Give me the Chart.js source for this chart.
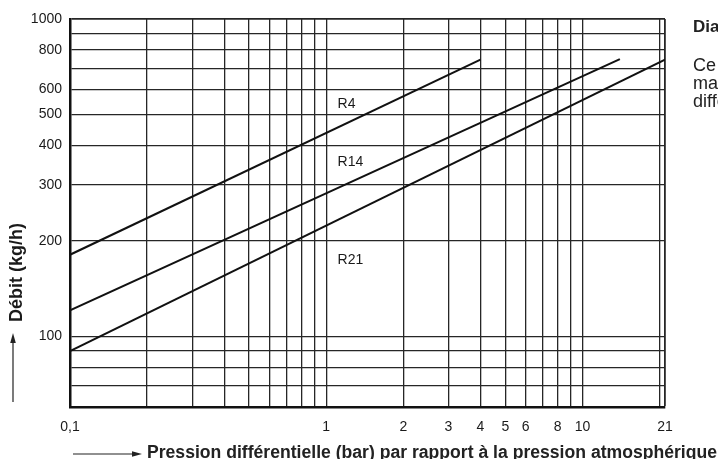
<!DOCTYPE html>
<html>
<head>
<meta charset="utf-8">
<script src="https://cdn.jsdelivr.net/npm/chart.js@4.4.1/dist/chart.umd.min.js"></script>
<style>
  html, body { margin: 0; padding: 0; background: #ffffff; overflow: hidden; }
  canvas { display: block; }
</style>
</head>
<body>
<canvas id="chart" width="718" height="459"></canvas>
<script>
// Differential pressure ticks (bar) and the ones that carry a label
const pressureTicks = [0.1, 0.2, 0.3, 0.4, 0.5, 0.6, 0.7, 0.8, 0.9,
                       1, 2, 3, 4, 5, 6, 7, 8, 9, 10, 20, 21];
const pressureLabels = { '0.1': '0,1', '1': '1', '2': '2', '3': '3', '4': '4',
                         '5': '5', '6': '6', '8': '8', '10': '10', '21': '21' };

// Flow ticks (kg/h) and the ones that carry a label
const flowTicks = [60, 70, 80, 90, 100, 200, 300, 400, 500, 600, 700, 800, 900, 1000];
const flowLabels = [100, 200, 300, 400, 500, 600, 800, 1000];

// Flow curves: pressure (bar) -> flow (kg/h)
const seriesNames = ['R4', 'R14', 'R21'];
const r4Pressure = [0.1, 4];
const r4Flow = [181, 745];
const r14Pressure = [0.1, 14];
const r14Flow = [121, 748];
const r21Pressure = [0.1, 21];
const r21Flow = [90, 745];

const FONT = '"Liberation Sans", Arial, Helvetica, sans-serif';

function toPoints(xs, ys) {
  return xs.map((x, i) => ({ x: x, y: ys[i] }));
}

// Curve names, anchored in data coordinates next to each line
const curveLabels = [
  { text: seriesNames[0], x: 1.107, y: 540 },
  { text: seriesNames[1], x: 1.107, y: 354 },
  { text: seriesNames[2], x: 1.107, y: 174 }
];

function arrow(ctx, x1, y1, x2, y2) {
  const ang = Math.atan2(y2 - y1, x2 - x1);
  const head = 10, half = 2.8;
  const bx = x2 - head * Math.cos(ang), by = y2 - head * Math.sin(ang);
  ctx.beginPath();
  ctx.moveTo(x1, y1);
  ctx.lineTo(bx, by);
  ctx.lineWidth = 1.2;
  ctx.strokeStyle = '#222';
  ctx.stroke();
  ctx.beginPath();
  ctx.moveTo(x2, y2);
  ctx.lineTo(bx + half * Math.sin(ang), by - half * Math.cos(ang));
  ctx.lineTo(bx - half * Math.sin(ang), by + half * Math.cos(ang));
  ctx.closePath();
  ctx.fillStyle = '#222';
  ctx.fill();
}

const decorations = {
  id: 'decorations',
  afterDraw(chart) {
    const ctx = chart.ctx;
    const xs = chart.scales.x, ys = chart.scales.y;
    ctx.save();
    ctx.fillStyle = '#1a1a1a';

    // Curve names
    ctx.font = '14px ' + FONT;
    ctx.textAlign = 'left';
    ctx.textBaseline = 'middle';
    curveLabels.forEach(l => {
      ctx.fillText(l.text, xs.getPixelForValue(l.x), ys.getPixelForValue(l.y));
    });

    // Y axis title with upward arrow
    ctx.save();
    ctx.font = 'bold 18px ' + FONT;
    ctx.translate(22, 322);
    ctx.rotate(-Math.PI / 2);
    ctx.textAlign = 'left';
    ctx.textBaseline = 'alphabetic';
    ctx.fillText('Débit (kg/h)', 0, 0);
    ctx.restore();
    arrow(ctx, 13, 402, 13, 333);

    // X axis title with arrow
    arrow(ctx, 73, 454, 142, 454);
    const xTitle = 'Pression différentielle (bar) par rapport à la pression atmosphérique';
    ctx.save();
    ctx.font = 'bold 18px ' + FONT;
    ctx.textAlign = 'left';
    ctx.textBaseline = 'alphabetic';
    const w = ctx.measureText(xTitle).width;
    const target = 570;
    ctx.translate(147, 458);
    ctx.scale(Math.min(1, target / w), 1);
    ctx.fillText(xTitle, 0, 0);
    ctx.restore();

    // Side description
    ctx.textAlign = 'left';
    ctx.textBaseline = 'alphabetic';
    ctx.font = 'bold 17px ' + FONT;
    ctx.fillText('Diagramme de débit', 693, 32);
    ctx.font = '18px ' + FONT;
    ctx.fillText('Ce diagramme indique le débit', 693, 71);
    ctx.fillText('maximal en fonction de la pression', 693, 89);
    ctx.fillText('différentielle.', 693, 107);

    ctx.restore();
  }
};

const lineStyle = { borderColor: '#111', borderWidth: 2, pointRadius: 0, fill: false, tension: 0 };

new Chart(document.getElementById('chart'), {
  type: 'line',
  data: {
    datasets: [
      Object.assign({ label: seriesNames[0], data: toPoints(r4Pressure, r4Flow) }, lineStyle),
      Object.assign({ label: seriesNames[1], data: toPoints(r14Pressure, r14Flow) }, lineStyle),
      Object.assign({ label: seriesNames[2], data: toPoints(r21Pressure, r21Flow) }, lineStyle)
    ]
  },
  options: {
    responsive: false,
    animation: false,
    devicePixelRatio: 1,
    layout: { padding: { top: 19, right: 53, left: 0, bottom: 0 } },
    plugins: { legend: { display: false }, tooltip: { enabled: false } },
    scales: {
      x: {
        type: 'logarithmic',
        min: 0.1,
        max: 21,
        afterBuildTicks: s => { s.ticks = pressureTicks.map(v => ({ value: v })); },
        afterFit: s => { s.height = 52; },
        grid: {
          color: '#262626',
          lineWidth: c => (c.tick && c.tick.value === 21 ? 1.8 : 1.3),
          drawTicks: false
        },
        border: { display: true, color: '#111', width: 2.5 },
        ticks: {
          autoSkip: false,
          maxRotation: 0,
          padding: 12,
          color: '#1a1a1a',
          font: { family: FONT, size: 14 },
          callback: v => pressureLabels[String(v)] || ''
        }
      },
      y: {
        type: 'logarithmic',
        min: 60,
        max: 1000,
        afterBuildTicks: s => { s.ticks = flowTicks.map(v => ({ value: v })); },
        afterFit: s => { s.width = 70; },
        grid: {
          color: '#262626',
          lineWidth: c => (c.tick && c.tick.value === 1000 ? 1.8 : 1.3),
          drawTicks: false
        },
        border: { display: true, color: '#111', width: 2.5 },
        ticks: {
          autoSkip: false,
          padding: 8,
          color: '#1a1a1a',
          font: { family: FONT, size: 14 },
          callback: v => (flowLabels.includes(v) ? String(v) : '')
        }
      }
    }
  },
  plugins: [decorations]
});
</script>
</body>
</html>
